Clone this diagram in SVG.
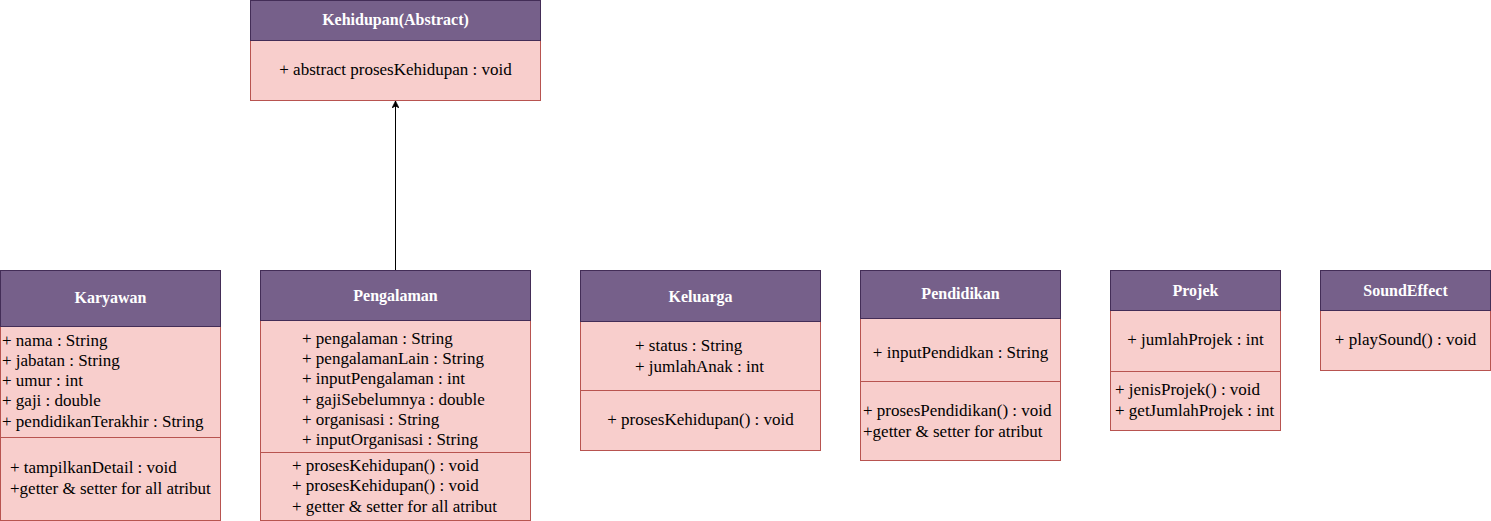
<svg xmlns="http://www.w3.org/2000/svg" width="1491" height="521" viewBox="0 0 1491 521">
<style>
.hd{fill:#76608a;stroke:#432d57;stroke-width:1}
.bd{fill:#f8cecc;stroke:#b85450;stroke-width:1}
.dv{stroke:#b85450;stroke-width:1}
.t{font-family:"Liberation Serif","Times New Roman",serif;font-size:17px;fill:#000}
.h{font-family:"Liberation Serif","Times New Roman",serif;font-size:16px;font-weight:bold;fill:#fff;text-anchor:middle}
.c{text-anchor:middle}
.e{stroke:#000;stroke-width:1;fill:none}
</style>
<defs>
<marker id="arr" viewBox="0 0 10 10" refX="10" refY="5" markerWidth="7" markerHeight="7" markerUnits="userSpaceOnUse" orient="auto">
<path d="M0,0 L10,5 L0,10 L3,5 z" fill="#000" stroke="#000"/>
</marker>
</defs>
<g id="connectors">
<path class="e" d="M395.5,270 L395.5,101" marker-end="url(#arr)"/>
</g>
<g id="kehidupan">
<rect class="bd" x="250.5" y="40.5" width="290" height="60"/>
<rect class="hd" x="250.5" y="0.5" width="290" height="40"/>
<text class="h" x="395.5" y="25">Kehidupan(Abstract)</text>
<text class="t c" x="395.5" y="75">+ abstract prosesKehidupan : void</text>
</g>
<g id="karyawan">
<rect class="bd" x="0.5" y="326.5" width="220" height="194"/>
<rect class="hd" x="0.5" y="270.5" width="220" height="56"/>
<line class="dv" x1="0.5" y1="437.5" x2="220.5" y2="437.5"/>
<text class="h" x="110.5" y="303">Karyawan</text>
<text class="t" x="2" y="346">+ nama : String</text>
<text class="t" x="2" y="366">+ jabatan : String</text>
<text class="t" x="2" y="386">+ umur : int</text>
<text class="t" x="2" y="406">+ gaji : double</text>
<text class="t" x="2" y="427">+ pendidikanTerakhir : String</text>
<text class="t" x="10" y="473">+ tampilkanDetail : void</text>
<text class="t" x="10" y="494">+getter &amp; setter for all atribut</text>
</g>
<g id="pengalaman">
<rect class="bd" x="260.5" y="320.5" width="270" height="200"/>
<rect class="hd" x="260.5" y="270.5" width="270" height="50"/>
<line class="dv" x1="260.5" y1="452.5" x2="530.5" y2="452.5"/>
<text class="h" x="395.5" y="301">Pengalaman</text>
<text class="t" x="302" y="344">+ pengalaman : String</text>
<text class="t" x="302" y="364">+ pengalamanLain : String</text>
<text class="t" x="302" y="384">+ inputPengalaman : int</text>
<text class="t" x="302" y="405">+ gajiSebelumnya : double</text>
<text class="t" x="302" y="425">+ organisasi : String</text>
<text class="t" x="302" y="445">+ inputOrganisasi : String</text>
<text class="t" x="292" y="471">+ prosesKehidupan() : void</text>
<text class="t" x="292" y="491">+ prosesKehidupan() : void</text>
<text class="t" x="292" y="512">+ getter &amp; setter for all atribut</text>
</g>
<g id="keluarga">
<rect class="bd" x="580.5" y="321.5" width="240" height="129"/>
<rect class="hd" x="580.5" y="270.5" width="240" height="51"/>
<line class="dv" x1="580.5" y1="390.5" x2="820.5" y2="390.5"/>
<text class="h" x="700.5" y="302">Keluarga</text>
<text class="t" x="635" y="351">+ status : String</text>
<text class="t" x="635" y="372">+ jumlahAnak : int</text>
<text class="t c" x="700.5" y="425">+ prosesKehidupan() : void</text>
</g>
<g id="pendidikan">
<rect class="bd" x="860.5" y="318.5" width="200" height="142"/>
<rect class="hd" x="860.5" y="270.5" width="200" height="48"/>
<line class="dv" x1="860.5" y1="381.5" x2="1060.5" y2="381.5"/>
<text class="h" x="960.5" y="299">Pendidikan</text>
<text class="t c" x="960.5" y="358">+ inputPendidkan : String</text>
<text class="t" x="863" y="416">+ prosesPendidikan() : void</text>
<text class="t" x="863" y="437">+getter &amp; setter for atribut</text>
</g>
<g id="projek">
<rect class="bd" x="1110.5" y="310.5" width="170" height="120"/>
<rect class="hd" x="1110.5" y="270.5" width="170" height="40"/>
<line class="dv" x1="1110.5" y1="371.5" x2="1280.5" y2="371.5"/>
<text class="h" x="1195.5" y="296">Projek</text>
<text class="t c" x="1195.5" y="345">+ jumlahProjek : int</text>
<text class="t" x="1115" y="395">+ jenisProjek() : void</text>
<text class="t" x="1115" y="416">+ getJumlahProjek : int</text>
</g>
<g id="soundeffect">
<rect class="bd" x="1320.5" y="310.5" width="170" height="60"/>
<rect class="hd" x="1320.5" y="270.5" width="170" height="40"/>
<text class="h" x="1405.5" y="296">SoundEffect</text>
<text class="t c" x="1405.5" y="345">+ playSound() : void</text>
</g>
</svg>
